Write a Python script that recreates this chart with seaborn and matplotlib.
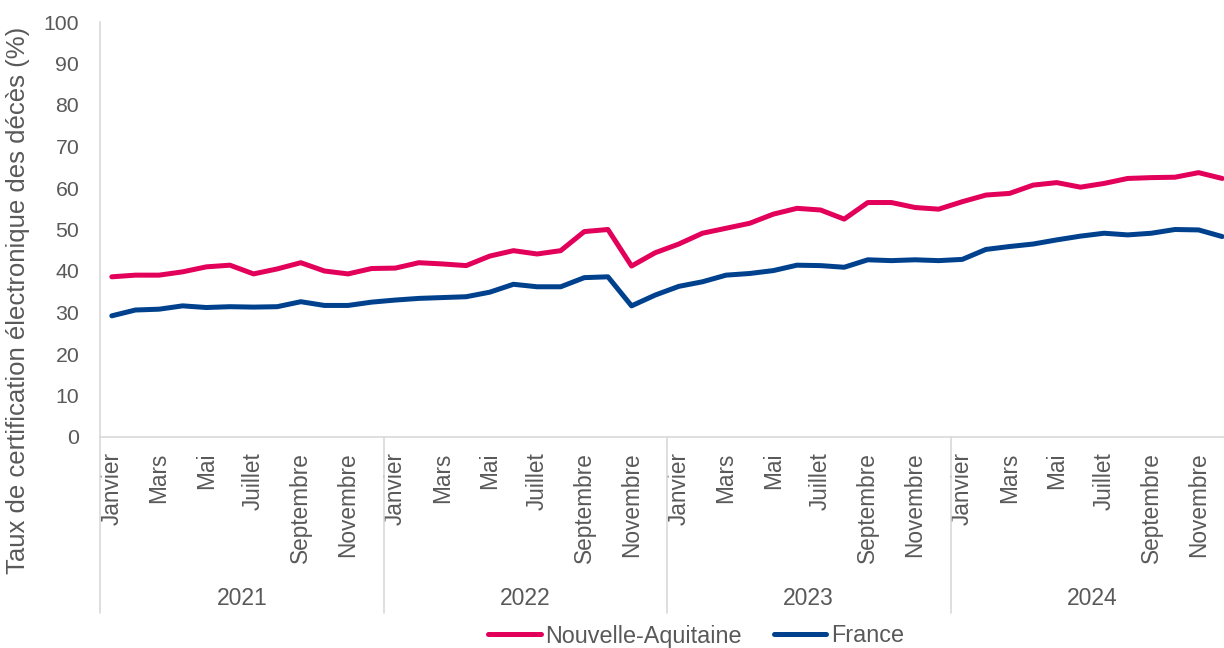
import numpy as np
import pandas as pd
import seaborn as sns
import matplotlib.pyplot as plt
import matplotlib.transforms as mtransforms

# data
years = ["2021", "2022", "2023", "2024"]
months = ["Janvier", "Février", "Mars", "Avril", "Mai", "Juin", "Juillet",
          "Août", "Septembre", "Octobre", "Novembre", "Décembre"]

nouvelle_aquitaine = [
    38.6, 39.0, 39.0, 39.8, 41.0, 41.4, 39.3, 40.5, 42.0, 40.0, 39.3, 40.6,
    40.7, 42.0, 41.7, 41.3, 43.6, 44.9, 44.1, 44.9, 49.5, 50.0, 41.2, 44.4,
    46.5, 49.1, 50.3, 51.5, 53.7, 55.1, 54.7, 52.5, 56.5, 56.5, 55.3, 54.9,
    56.7, 58.3, 58.7, 60.7, 61.3, 60.2, 61.1, 62.3, 62.5, 62.6, 63.7, 62.3,
]
france = [
    29.2, 30.6, 30.8, 31.6, 31.2, 31.4, 31.3, 31.4, 32.6, 31.7, 31.7, 32.5,
    33.0, 33.4, 33.6, 33.8, 34.9, 36.8, 36.2, 36.2, 38.4, 38.6, 31.6, 34.2,
    36.3, 37.4, 39.0, 39.4, 40.1, 41.4, 41.3, 40.9, 42.7, 42.5, 42.7, 42.5,
    42.8, 45.2, 45.9, 46.5, 47.5, 48.4, 49.1, 48.7, 49.1, 50.0, 49.9, 48.3,
]

n = len(france)
df = pd.DataFrame({
    "idx": list(range(n)) * 2,
    "taux": nouvelle_aquitaine + france,
    "zone": ["Nouvelle-Aquitaine"] * n + ["France"] * n,
})

PINK = "#E2005A"
BLUE = "#00418E"
GREY = "#595959"
LINE = "#D9D9D9"

sns.set_style("white")
plt.rcParams["font.family"] = ["Liberation Sans", "DejaVu Sans"]

fig = plt.figure(figsize=(12.24, 6.48), dpi=100)
ax = fig.add_axes([100 / 1224, 211 / 648, 1134 / 1224, 415 / 648])

sns.lineplot(data=df, x="idx", y="taux", hue="zone",
             palette={"Nouvelle-Aquitaine": PINK, "France": BLUE},
             linewidth=3.6, ax=ax, legend=True)

ax.set_xlim(-0.5, n - 0.5)
ax.set_ylim(0, 100)
ax.set_yticks(range(0, 101, 10))
ax.tick_params(axis="y", length=0, pad=15, labelsize=15.3, labelcolor=GREY)

ticks = list(range(0, n, 2))
ax.set_xticks(ticks)
ax.set_xticklabels([months[i % 12] for i in ticks], rotation=90, va="top", ha="center")
ax.tick_params(axis="x", length=0, pad=11, labelsize=16.3, labelcolor=GREY)
ax.set_xlabel("")
ax.set_ylabel("")

for side in ["top", "right"]:
    ax.spines[side].set_visible(False)
ax.spines["left"].set_color(LINE)
ax.spines["bottom"].set_color(LINE)
ax.spines["left"].set_linewidth(1.2)
ax.spines["bottom"].set_linewidth(1.2)

# separators and year labels under the axis
trans = mtransforms.blended_transform_factory(ax.transData, ax.transAxes)
for k, yr in enumerate(years):
    x0 = 12 * k - 0.5
    ax.plot([x0, x0], [0, -0.424], transform=trans, color=LINE, lw=1.2, clip_on=False)
    ax.text(12 * k + 5.5, -0.39, yr, transform=trans, ha="center", va="center",
            fontsize=16.5, color=GREY)

fig.text(18 / 1224, (648 - 300) / 648, "Taux de certification électronique des décès (%)",
         rotation=90, ha="center", va="center", fontsize=18.5, color=GREY)

handles, labels = ax.get_legend_handles_labels()
ax.legend(handles, labels, loc="center", bbox_to_anchor=(696 / 1224, 12 / 648),
          bbox_transform=fig.transFigure, ncol=2, frameon=False, fontsize=16.8,
          handlelength=2.25, handletextpad=0.2, columnspacing=1.35, labelcolor=GREY)

fig.savefig("out.png", dpi=100)
